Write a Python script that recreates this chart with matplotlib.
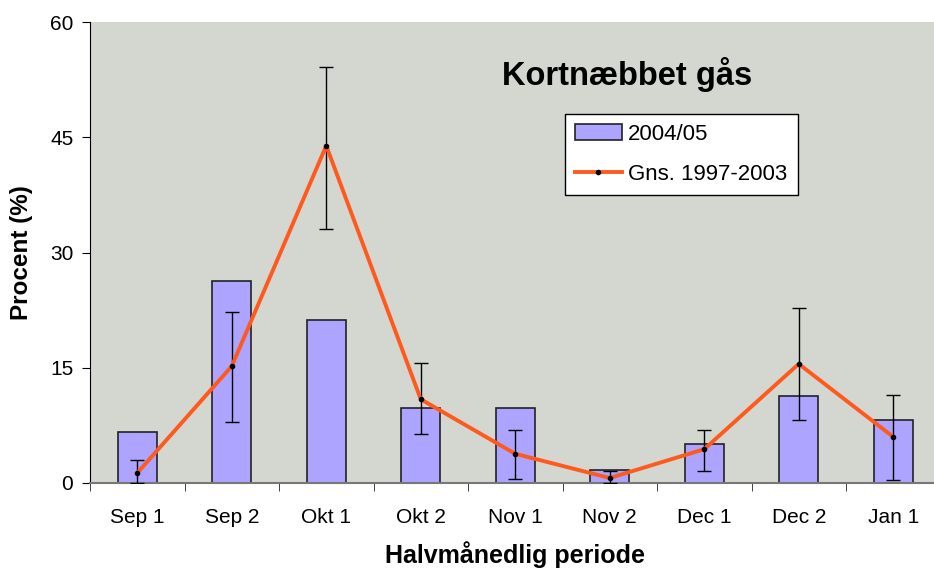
import numpy as np
import matplotlib.pyplot as plt

plt.rcParams['font.family'] = ['Liberation Sans', 'DejaVu Sans']

categories = ['Sep 1', 'Sep 2', 'Okt 1', 'Okt 2', 'Nov 1', 'Nov 2', 'Dec 1', 'Dec 2', 'Jan 1']
bars_2004 = [6.6, 26.3, 21.2, 9.8, 9.8, 1.7, 5.1, 11.3, 8.2]
mean_9703 = [1.3, 15.2, 43.9, 10.9, 3.8, 0.65, 4.4, 15.5, 6.0]
err_low = [0.0, 7.9, 33.1, 6.4, 0.5, 0.0, 1.6, 8.2, 0.4]
err_high = [3.0, 22.3, 54.1, 15.6, 6.9, 1.6, 6.9, 22.8, 11.4]

x = np.arange(len(categories))
mean = np.array(mean_9703)
yerr = [mean - np.array(err_low), np.array(err_high) - mean]

fig = plt.figure(figsize=(9.34, 5.73), dpi=100)
ax = fig.add_axes([90 / 934, 90 / 573, 850.5 / 934, 461 / 573])
ax.set_facecolor('#d4d6d0')

bars = ax.bar(x, bars_2004, width=0.41, color='#aca4ff', edgecolor='#222222',
              linewidth=1.2, label='2004/05', zorder=2)
ax.errorbar(x, mean, yerr=yerr, fmt='none', ecolor='black', elinewidth=1,
            capsize=5, capthick=1, zorder=3)
line, = ax.plot(x, mean, color='#ff5a1e', linewidth=2.8, marker='o', markersize=3,
                markerfacecolor='black', markeredgecolor='black',
                label='Gns. 1997-2003', zorder=4)

ax.set_xlim(-0.5, len(categories) - 0.5)
ax.set_ylim(0, 60)
ax.set_yticks([0, 15, 30, 45, 60])
ax.set_xticks(x)
ax.set_xticklabels(categories)
ax.set_xticks(np.arange(-0.5, len(categories)), minor=True)
ax.tick_params(axis='x', which='major', length=0, labelsize=15, pad=18)
ax.tick_params(axis='x', which='minor', length=6, direction='out', color='#222222')
ax.tick_params(axis='y', length=6, direction='out', labelsize=15, pad=6)

for s in ['top', 'right']:
    ax.spines[s].set_visible(False)
ax.spines['bottom'].set_color('#777777')
ax.spines['bottom'].set_linewidth(1.5)
ax.spines['left'].set_color('black')

ax.set_ylabel('Procent (%)', fontsize=17.5, fontweight='bold', labelpad=12)
ax.set_xlabel('Halvmånedlig periode', fontsize=18, fontweight='bold', labelpad=10)

fig.text(627 / 934, 1 - 75 / 573, 'Kortnæbbet gås', fontsize=23.5,
         fontweight='bold', ha='center', va='center')

leg = fig.legend([bars, line], ['2004/05', 'Gns. 1997-2003'],
                 loc='upper left', bbox_to_anchor=(565 / 934, 1 - 114 / 573),
                 fontsize=16, frameon=True, fancybox=False, edgecolor='black',
                 framealpha=1, handlelength=2.1, handletextpad=0.3,
                 borderaxespad=0, borderpad=0.45, labelspacing=0.85)
leg.get_frame().set_linewidth(1)

fig.savefig('out.png', dpi=100)
